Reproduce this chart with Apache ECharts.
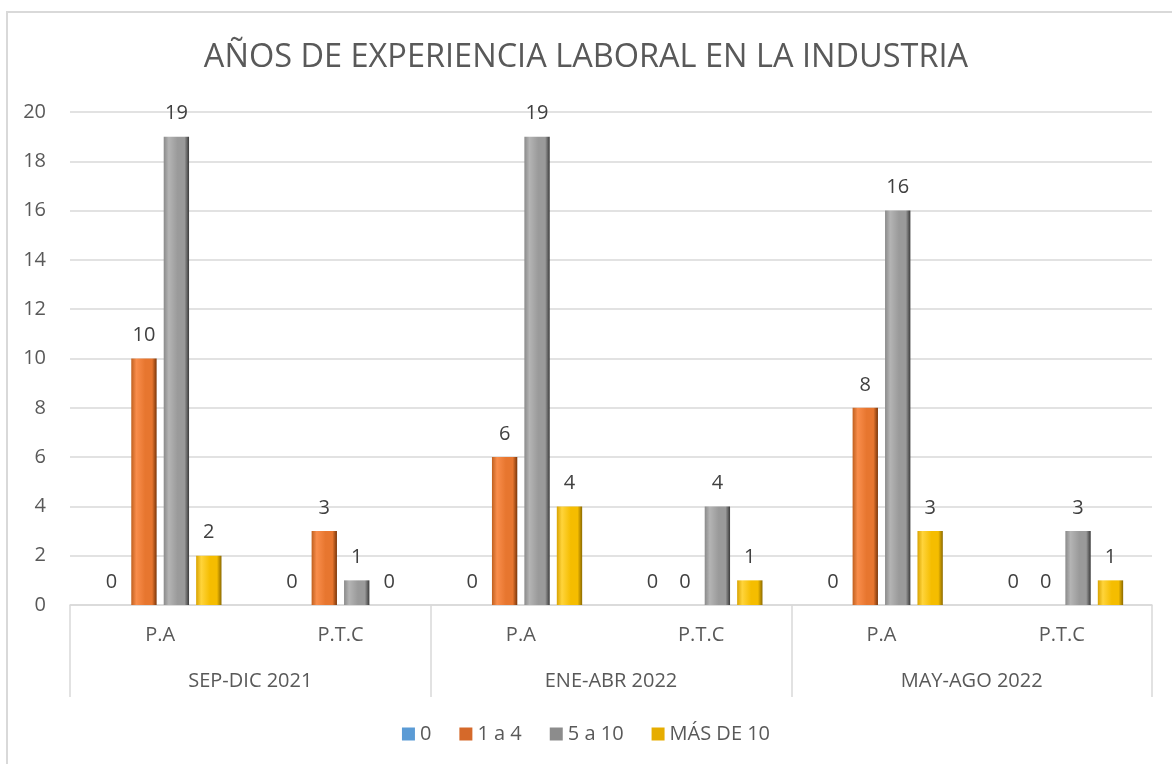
<!DOCTYPE html>
<html>
<head>
<meta charset="utf-8">
<script src="https://cdn.jsdelivr.net/npm/echarts@6/dist/echarts.min.js"></script>
<style>
  html, body { margin: 0; padding: 0; background: #fff; }
  #chart { width: 1172px; height: 764px; }
</style>
</head>
<body>
<div id="chart"></div>
<script>
  // datos
  var periodos = ['SEP-DIC 2021', 'ENE-ABR 2022', 'MAY-AGO 2022']
  var categorias = ['P.A', 'P.T.C', 'P.A', 'P.T.C', 'P.A', 'P.T.C']
  var nombres = ['0', '1 a 4', '5 a 10', 'MÁS DE 10']
  var cero = [0, 0, 0, 0, 0, 0]
  var unoA4 = [10, 3, 6, 0, 8, 0]
  var cincoA10 = [19, 1, 19, 4, 16, 3]
  var masDe10 = [2, 0, 4, 1, 3, 1]
  var yTicks = [0, 2, 4, 6, 8, 10, 12, 14, 16, 18, 20]

  var myChart = echarts.init(document.getElementById('chart'))

  // degradado horizontal para imitar el bisel
  function bisel(borde, claro, base, oscuro) {
    return new echarts.graphic.LinearGradient(0, 0, 1, 0, [
      { offset: 0, color: borde },
      { offset: 0.2, color: claro },
      { offset: 0.55, color: base },
      { offset: 0.82, color: base },
      { offset: 1, color: oscuro },
    ])
  }

  var colores = [
    '#5b9bd5',
    bisel('#c0601f', '#f98d4b', '#e7762f', '#7a3508'),
    bisel('#8a8a8a', '#b4b4b4', '#9a9a9a', '#3a3a3a'),
    bisel('#d9a300', '#ffd43b', '#f5bd00', '#8c6a00'),
  ]
  var legendColors = ['#5b9bd5', '#d5692a', '#8c8c8c', '#e6ad00']

  var fuente = 'Open Sans'
  var valores = [cero, unoA4, cincoA10, masDe10]
  var series = nombres.map(function (n, i) {
    return {
      name: n,
      type: 'bar',
      data: valores[i],
      barGap: '28%',
      barCategoryGap: '32%',
      itemStyle: { color: colores[i] },
      label: {
        show: true,
        position: 'top',
        distance: 13,
        color: '#404040',
        fontSize: 20,
        fontFamily: fuente,
      },
    }
  })

  var option = {
    backgroundColor: '#fff',
    animation: false,
    title: {
      text: 'AÑOS DE EXPERIENCIA LABORAL EN LA INDUSTRIA',
      left: 'center',
      top: 36,
      textStyle: {
        color: '#595959',
        fontSize: 32.5,
        fontWeight: 'normal',
        fontFamily: fuente,
      },
    },
    legend: {
      bottom: 15,
      left: 'center',
      itemWidth: 13,
      itemHeight: 13,
      itemGap: 28,
      icon: 'rect',
      textStyle: { color: '#595959', fontSize: 20, fontFamily: fuente },
      data: nombres.map(function (n, i) {
        return { name: n, itemStyle: { color: legendColors[i] } }
      }),
    },
    grid: { left: 70, right: 20, top: 112, bottom: 159 },
    xAxis: [
      {
        type: 'category',
        data: categorias,
        axisLine: { lineStyle: { color: '#d9d9d9', width: 1.5 } },
        axisTick: { show: false },
        axisLabel: {
          color: '#595959',
          fontSize: 20,
          margin: 20,
          fontFamily: fuente,
        },
      },
      {
        type: 'category',
        data: periodos,
        position: 'bottom',
        axisLine: { show: false },
        axisTick: {
          show: true,
          length: 92,
          lineStyle: { color: '#d9d9d9', width: 1.5 },
        },
        axisLabel: {
          color: '#595959',
          fontSize: 20,
          margin: 66,
          fontFamily: fuente,
        },
      },
    ],
    yAxis: {
      type: 'value',
      min: yTicks[0],
      max: yTicks[yTicks.length - 1],
      interval: 2,
      axisLine: { show: false },
      axisTick: { show: false },
      splitLine: { lineStyle: { color: '#d9d9d9', width: 1.5 } },
      axisLabel: {
        color: '#595959',
        fontSize: 20,
        margin: 24,
        fontFamily: fuente,
      },
    },
    graphic: [
      {
        type: 'rect',
        shape: { x: 7, y: 12, width: 1200, height: 800 },
        style: { fill: 'none', stroke: '#d9d9d9', lineWidth: 2 },
        silent: true,
      },
    ],
    series: series,
  }

  myChart.setOption(option)
</script>
</body>
</html>
